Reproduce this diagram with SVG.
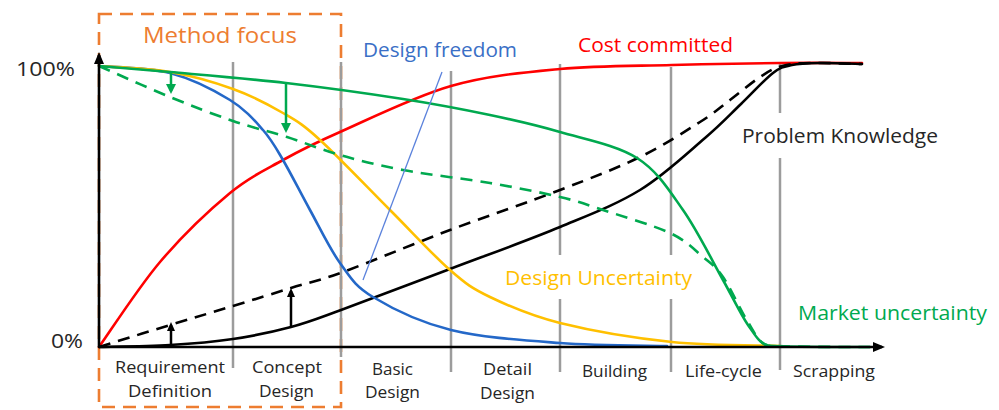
<svg xmlns="http://www.w3.org/2000/svg" width="999" height="410" viewBox="0 0 999 410">
<defs>
<style>
text{font-family:"Open Sans","Liberation Sans",sans-serif;}
.lbl{font-size:20px;}
.ax{font-size:17px;fill:#262626;}
.grid{stroke:#9c9c9c;stroke-width:2.5;fill:none;}
.c{fill:none;stroke-width:2.6;stroke-linecap:round;stroke-linejoin:round;}
.dash{stroke-dasharray:12 8;stroke-linecap:butt;}
.arrB{stroke:#000;stroke-width:2.5;fill:none;}
.arrG{stroke:#00A94F;stroke-width:2.5;fill:none;}
</style>
<marker id="ahAx" markerUnits="userSpaceOnUse" markerWidth="13" markerHeight="12" refX="9" refY="6" orient="auto"><path d="M0,1 L12,6 L0,11 z" fill="#000"/></marker>
<marker id="ahB" markerUnits="userSpaceOnUse" markerWidth="10" markerHeight="10" refX="6" refY="5" orient="auto"><path d="M0,1 L9,5 L0,9 z" fill="#000"/></marker>
<marker id="ahG" markerUnits="userSpaceOnUse" markerWidth="11" markerHeight="11" refX="7" refY="5.5" orient="auto"><path d="M0,0.5 L10,5.5 L0,10.5 z" fill="#00A94F"/></marker>
</defs>
<rect width="999" height="410" fill="#fff"/>

<g id="method-focus">
<rect x="99" y="14" width="242" height="393" fill="none" stroke="#ED7D31" stroke-width="2.6" stroke-dasharray="13 8"/>
<text x="143" y="43" font-size="22.5" fill="#ED7D31" textLength="154" lengthAdjust="spacingAndGlyphs">Method focus</text>
</g>

<g id="grid">
<line class="grid" x1="233" y1="62" x2="233" y2="368"/>
<line class="grid" x1="341" y1="62" x2="341" y2="357"/>
<line class="grid" x1="451" y1="71" x2="451" y2="372"/>
<line class="grid" x1="560" y1="64" x2="560" y2="255"/>
<line class="grid" x1="560" y1="299" x2="560" y2="372"/>
<line class="grid" x1="671" y1="67" x2="671" y2="255"/>
<line class="grid" x1="671" y1="299" x2="671" y2="372"/>
<line class="grid" x1="780" y1="62" x2="780" y2="113"/>
<line class="grid" x1="780" y1="158" x2="780" y2="370"/>
</g>

<g id="curves">
<path id="cost-committed" class="c" stroke="#FF0000" d="M99,347 C109.2,332.8 138.2,287.7 160,262 C181.8,236.3 209.5,210 230,193 C250.5,176 264.7,170.2 283,160 C301.3,149.8 312,144.3 340,132 C368,119.7 414.3,96.5 451,86 C487.7,75.5 523.2,72.5 560,69 C596.8,65.5 635.3,66 672,65 C708.7,64 748.3,63.3 780,63 C811.7,62.7 848.3,63 862,63"/>
<path id="problem-knowledge-dashed" class="c dash" stroke="#000" d="M99,347 C110.8,343.3 147.7,331.8 170,325 C192.3,318.2 212.8,312.2 233,306 C253.2,299.8 272.7,293.7 291,288 C309.3,282.3 316.5,281.7 343,272 C369.5,262.3 413.8,243.7 450,230 C486.2,216.3 528.3,202.2 560,190 C591.7,177.8 616.7,168.3 640,157 C663.3,145.7 685,131.5 700,122 C715,112.5 720,107.5 730,100 C740,92.5 751.3,82.7 760,77 C768.7,71.3 773.7,68.3 782,66 C790.3,63.7 796.7,63.3 810,63 C823.3,62.7 853.3,63.8 862,64"/>
<path id="problem-knowledge" class="c" stroke="#000" d="M99,347 C110.8,346.7 147.7,346.3 170,345 C192.3,343.7 212.8,342 233,339 C253.2,336 273,331.8 291,327 C309,322.2 314.5,319.7 341,310 C367.5,300.3 413.5,282.8 450,269 C486.5,255.2 528.3,240.2 560,227 C591.7,213.8 615.8,204.8 640,190 C664.2,175.2 688.2,152.3 705,138 C721.8,123.7 729.7,114.8 741,104 C752.3,93.2 764.5,79.5 773,73 C781.5,66.5 784.2,66.7 792,65 C799.8,63.3 808.3,63.2 820,63 C831.7,62.8 855,63.8 862,64"/>
<path id="design-freedom" class="c" stroke="#2468C8" d="M99,66 C110.8,67.2 148.2,67.3 170,73 C191.8,78.7 214.5,90.5 230,100 C245.5,109.5 254.2,120 263,130 C271.8,140 275.2,146.7 283,160 C290.8,173.3 300.5,192.8 310,210 C319.5,227.2 329.5,248.5 340,263 C350.5,277.5 354.5,285.8 373,297 C391.5,308.2 419.8,322.3 451,330 C482.2,337.7 524,340.3 560,343 C596,345.7 649.2,345.5 667,346"/>
<path id="design-uncertainty" class="c" stroke="#FFC000" d="M99,66 C110.8,67 147.7,68.2 170,72 C192.3,75.8 214.2,82.2 233,89 C251.8,95.8 268.5,104.5 283,113 C297.5,121.5 302.2,123.8 320,140 C337.8,156.2 368.3,188.3 390,210 C411.7,231.7 433.3,255.5 450,270 C466.7,284.5 471.7,288.2 490,297 C508.3,305.8 529.7,315.5 560,323 C590.3,330.5 635.3,338.2 672,342 C708.7,345.8 762,345.3 780,346"/>
<path id="market-uncertainty-dashed" class="c dash" stroke="#00A94F" d="M99,66 C110.8,71.2 147.7,87.8 170,97 C192.3,106.2 213.5,114.3 233,121 C252.5,127.7 269.2,131.3 287,137 C304.8,142.7 320.7,149.5 340,155 C359.3,160.5 378,165.3 403,170 C428,174.7 463.8,178.5 490,183 C516.2,187.5 541.2,192.5 560,197 C578.8,201.5 584.7,204 603,210 C621.3,216 653.3,225.2 670,233 C686.7,240.8 694.2,249.7 703,257 C711.8,264.3 715.5,266.2 723,277 C730.5,287.8 740.5,310.7 748,322 C755,334 760,344 768,345.5 C780,347 850,347 870,347"/>
<path id="market-uncertainty" class="c" stroke="#00A94F" d="M99,66 C110.8,67 138.8,69.2 170,72 C201.2,74.8 247.2,78.5 286,83 C324.8,87.5 369,93.7 403,99 C437,104.3 463.8,109.5 490,115 C516.2,120.5 535.5,124.8 560,132 C584.5,139.2 616.5,145 637,158 C657.5,171 668.7,189.7 683,210 C697.3,230.3 712.2,260.8 723,280 C733.8,299.2 740.5,314.2 748,325 C755,335 760,344 768,345.5 C780,347 850,347 870,347"/>
<line id="design-freedom-pointer" x1="442" y1="72" x2="363" y2="280" stroke="#5B82DC" stroke-width="1.3"/>
</g>

<g id="connectors">
<line class="arrG" x1="171" y1="72" x2="171" y2="91" marker-end="url(#ahG)"/>
<line class="arrG" x1="286" y1="83" x2="286" y2="130" marker-end="url(#ahG)"/>
<line class="arrB" x1="171" y1="346" x2="171" y2="325" marker-end="url(#ahB)"/>
<line class="arrB" x1="291" y1="327" x2="291" y2="291" marker-end="url(#ahB)"/>
</g>

<g id="axes">
<line x1="99" y1="347" x2="99" y2="55" stroke="#000" stroke-width="2.6" marker-end="url(#ahAx)"/>
<line x1="99" y1="347" x2="882" y2="347" stroke="#000" stroke-width="2.6" marker-end="url(#ahAx)"/>
<text x="16" y="76" font-size="20" fill="#262626" textLength="59" lengthAdjust="spacingAndGlyphs">100%</text>
<text x="51" y="348" font-size="20" fill="#262626" textLength="32" lengthAdjust="spacingAndGlyphs">0%</text>
</g>

<g id="curve-labels">
<text class="lbl" x="363" y="57" fill="#3A6FC6" textLength="154" lengthAdjust="spacingAndGlyphs">Design freedom</text>
<text class="lbl" x="578" y="52" fill="#FF0000" textLength="155" lengthAdjust="spacingAndGlyphs">Cost committed</text>
<text class="lbl" x="742" y="143" fill="#262626" textLength="196" lengthAdjust="spacingAndGlyphs">Problem Knowledge</text>
<text class="lbl" x="505" y="285" fill="#FFC000" textLength="187" lengthAdjust="spacingAndGlyphs">Design Uncertainty</text>
<text class="lbl" x="798" y="320" fill="#00A94F" textLength="189" lengthAdjust="spacingAndGlyphs">Market uncertainty</text>
</g>

<g id="phase-labels">
<text class="ax" x="115" y="373" textLength="110" lengthAdjust="spacingAndGlyphs">Requirement</text>
<text class="ax" x="128" y="397" textLength="84" lengthAdjust="spacingAndGlyphs">Definition</text>
<text class="ax" x="252" y="373" textLength="70" lengthAdjust="spacingAndGlyphs">Concept</text>
<text class="ax" x="259" y="397" textLength="55" lengthAdjust="spacingAndGlyphs">Design</text>
<text class="ax" x="372" y="375" textLength="41" lengthAdjust="spacingAndGlyphs">Basic</text>
<text class="ax" x="365" y="398" textLength="55" lengthAdjust="spacingAndGlyphs">Design</text>
<text class="ax" x="483" y="375" textLength="49" lengthAdjust="spacingAndGlyphs">Detail</text>
<text class="ax" x="480" y="399" textLength="55" lengthAdjust="spacingAndGlyphs">Design</text>
<text class="ax" x="582" y="377" textLength="65" lengthAdjust="spacingAndGlyphs">Building</text>
<text class="ax" x="685" y="377" textLength="77" lengthAdjust="spacingAndGlyphs">Life-cycle</text>
<text class="ax" x="793" y="377" textLength="82" lengthAdjust="spacingAndGlyphs">Scrapping</text>
</g>
</svg>
